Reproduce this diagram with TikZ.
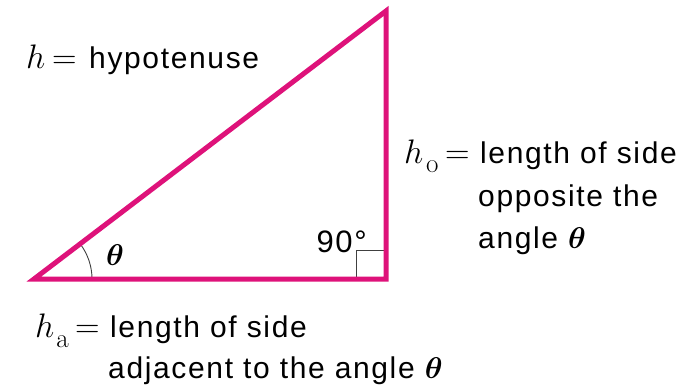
\RequirePackage{fix-cm}
\documentclass[tikz,border=0pt]{standalone}
\usepackage{amsmath}
\usepackage[no-math]{fontspec}
\setmainfont{Liberation Sans}[LetterSpace=5.5]
\definecolor{tri}{RGB}{222,18,122}
\begin{document}
\begin{tikzpicture}[x=1pt,y=-1pt,
  lbl/.style={anchor=base west,inner sep=0pt,font=\fontsize{30}{36}\selectfont},
  mth/.style={anchor=base west,inner sep=0pt,font=\fontsize{34}{40}\selectfont},
  sub/.style={anchor=base west,inner sep=0pt,font=\fontsize{27}{30}\selectfont},
  side/.style={draw=tri,line width=5pt,line join=miter},
  thinmark/.style={draw=black!75,line width=0.9pt}]
\useasboundingbox (0,0) rectangle (697,388);
\coordinate (A) at (34,279);
\coordinate (B) at (386,279);
\coordinate (C) at (386,11);
\coordinate (S1) at (356,279);
\coordinate (S2) at (356,250);
\coordinate (S3) at (386,250);
% right-angle mark
\draw[thinmark] (S1) -- (S2) -- (S3);
% angle arc
\draw[thinmark] (A) ++(58,0) arc[start angle=0,end angle=-37.2,radius=58];
% triangle
\draw[side] (A) -- (B) -- (C) -- cycle;
% labels inside
\node[lbl,anchor=center] (th) at (115,255) {$\boldsymbol{\theta}$};
\node[lbl,anchor=base east,font=\fontsize{31}{36}\selectfont] (ninety) at (367,252) {90°};
% hypotenuse
\node[mth] (h) at (26,68) {$h$};
\node[mth] (heq) at (52,68) {$=$};
\node[lbl] (hyp) at (89,68) {hypotenuse};
% opposite
\node[mth] (hoh) at (404,163) {$h$};
\node[sub] (hos) at (426,172) {$\mathrm{o}$};
\node[mth] (hoeq) at (445,163) {$=$};
\node[lbl] (ho1) at (480,163) {length of side};
\node[lbl] (ho2) at (478,206) {opposite the};
\node[lbl] (ho3) at (478,248) {angle $\boldsymbol{\theta}$};
% adjacent
\node[mth] (hah) at (35,337) {$h$};
\node[sub] (has) at (56,347) {$\mathrm{a}$};
\node[mth] (haeq) at (75,337) {$=$};
\node[lbl] (ha1) at (110,337) {length of side};
\node[lbl] (ha2) at (108,378) {adjacent to the angle $\boldsymbol{\theta}$};
\end{tikzpicture}
\end{document}
